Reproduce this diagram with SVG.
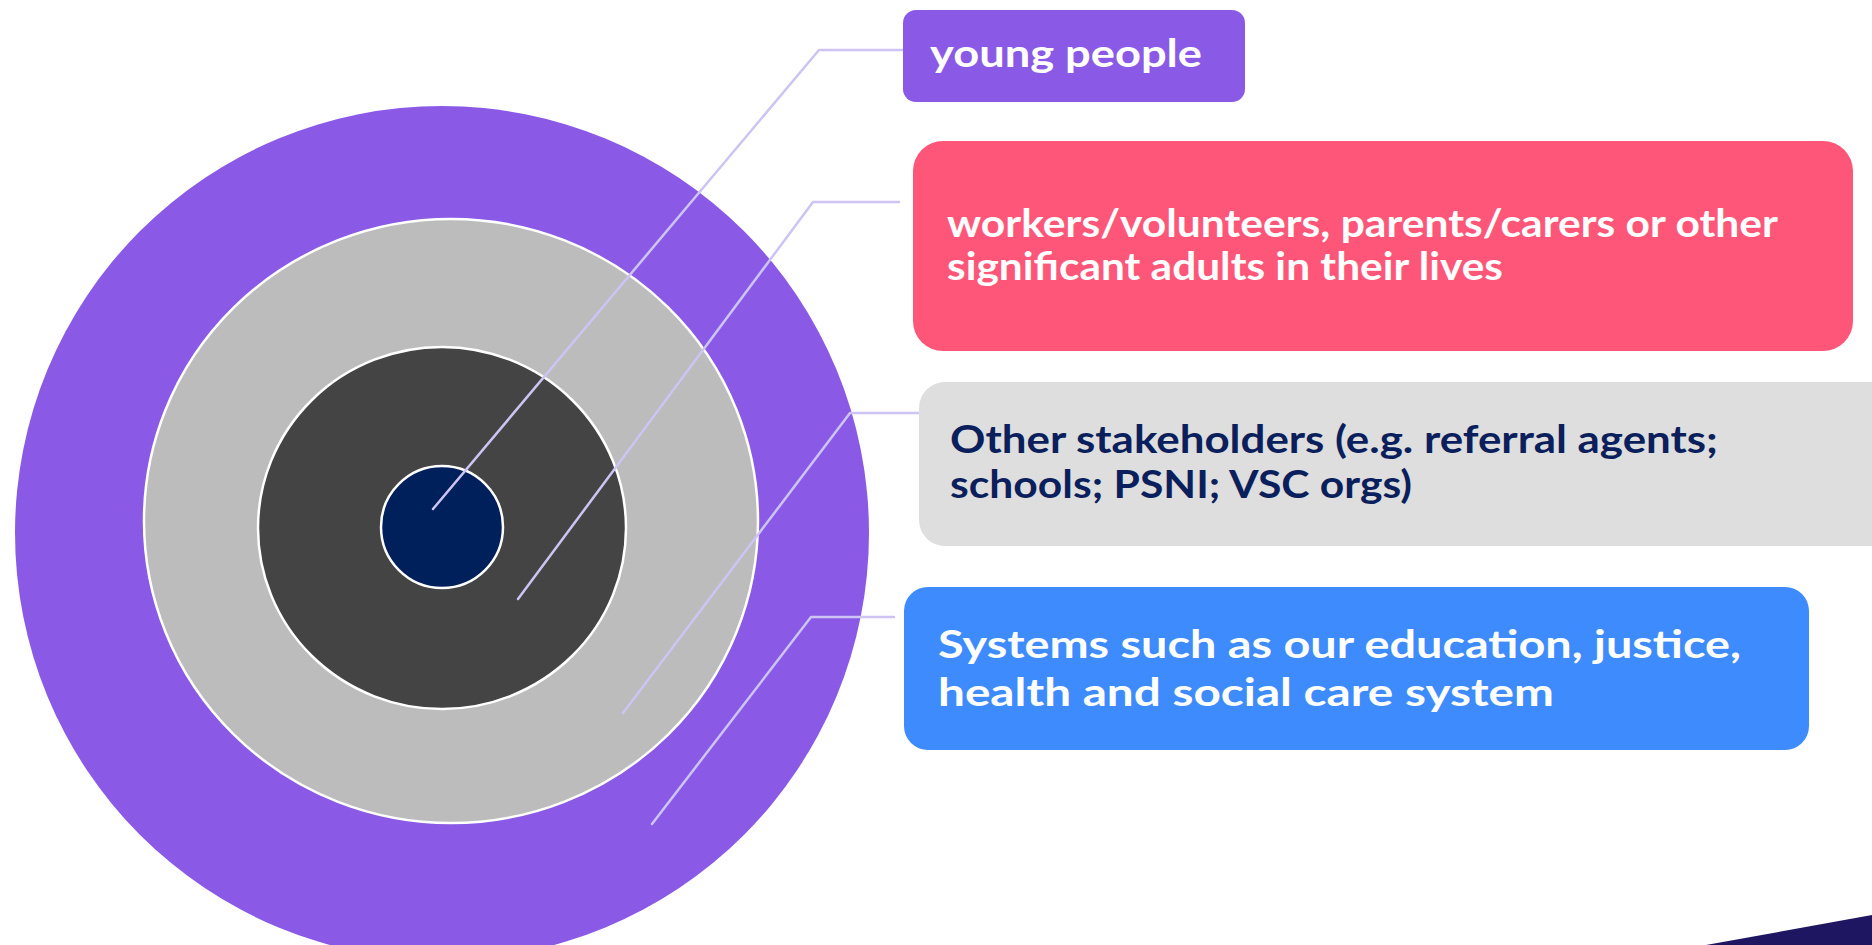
<svg xmlns="http://www.w3.org/2000/svg" width="1872" height="945" viewBox="0 0 1872 945">
<style>
.ring{stroke:#ffffff;stroke-width:2.5}
.conn{fill:none;stroke:#cdc4f3;stroke-width:2.5;stroke-linecap:round;stroke-linejoin:round}
.lbl{font-family:"Lato","Liberation Sans",sans-serif;font-weight:700;font-size:39px}
.w{fill:#ffffff}
.n{fill:#0b1f5c}
</style>
<rect x="0" y="0" width="1872" height="945" fill="#ffffff"/>
<g id="rings">
<circle id="ring-systems" cx="442" cy="533" r="427" fill="#8a5ae6"/>
<ellipse id="ring-stakeholders" class="ring" cx="451" cy="521" rx="307" ry="302" fill="#bcbcbc"/>
<ellipse id="ring-adults" class="ring" cx="442" cy="528" rx="184" ry="181" fill="#444444"/>
<circle id="ring-young" class="ring" cx="442" cy="527" r="61" fill="#00205c"/>
</g>
<g id="connectors">
<polyline class="conn" points="433,509 819,50 904,50"/>
<polyline class="conn" points="518,599 813,202 899,202"/>
<polyline class="conn" points="623,713 850,413 936,413"/>
<polyline class="conn" points="652,824 811,617 894,617"/>
</g>
<g id="box-young-people">
<rect x="903" y="10" width="342" height="92" rx="13" fill="#8a5ae6"/>
<text class="lbl w" x="930" y="67" font-size="40" textLength="272" lengthAdjust="spacingAndGlyphs">young people</text>
</g>
<g id="box-adults">
<rect x="913" y="141" width="940" height="210" rx="30" fill="#fe5679"/>
<text class="lbl w" x="947" y="237" textLength="831" lengthAdjust="spacingAndGlyphs">workers/volunteers, parents/carers or other</text>
<text class="lbl w" x="947" y="280" textLength="556" lengthAdjust="spacingAndGlyphs">significant adults in their lives</text>
</g>
<g id="box-stakeholders">
<rect x="919" y="382" width="990" height="164" rx="26" fill="#dedede"/>
<text class="lbl n" x="950" y="453" textLength="768" lengthAdjust="spacingAndGlyphs">Other stakeholders (e.g. referral agents;</text>
<text class="lbl n" x="950" y="498" textLength="462" lengthAdjust="spacingAndGlyphs">schools; PSNI; VSC orgs)</text>
</g>
<g id="box-systems">
<rect x="904" y="587" width="905" height="163" rx="24" fill="#3d8bfd"/>
<text class="lbl w" x="938" y="658" textLength="803" lengthAdjust="spacingAndGlyphs">Systems such as our education, justice,</text>
<text class="lbl w" x="938" y="706" textLength="616" lengthAdjust="spacingAndGlyphs">health and social care system</text>
</g>
<polygon id="corner" points="1706,945 1872,915 1872,945" fill="#1e1660"/>
</svg>
